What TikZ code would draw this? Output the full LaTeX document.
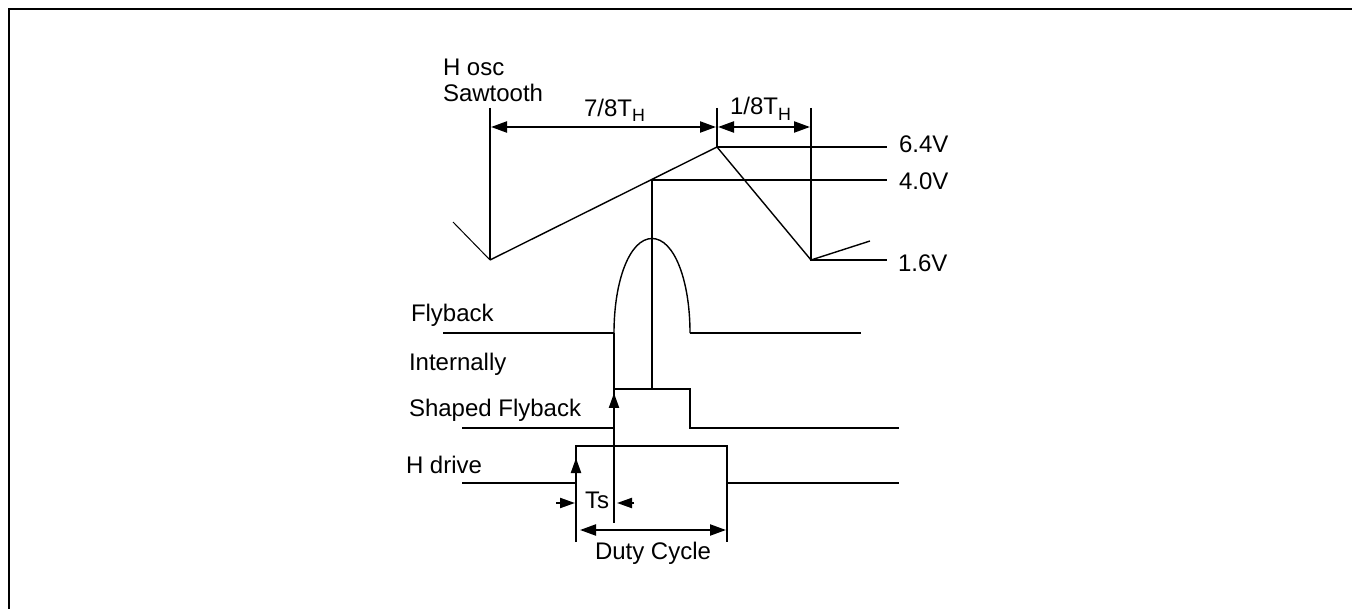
\documentclass[tikz,border=0pt]{standalone}
\usepackage{fontspec}
\setmainfont{Liberation Sans}
\usetikzlibrary{arrows.meta}
\newcommand{\subH}[1]{\raisebox{#1}{\fontsize{17.8pt}{18pt}\selectfont H}}
\tikzset{
  heavy/.style={line width=2.2pt,black},
  fine/.style={line width=1.4pt,black},
  faint/.style={line width=1pt,black},
  lbl/.style={anchor=base west,inner sep=0pt,outer sep=0pt,font=\fontsize{24pt}{27pt}\selectfont,text=black},
  dimension/.style={line width=2.2pt,black,{Triangle[length=16pt,width=11pt]}-{Triangle[length=16pt,width=11pt]}},
  onetip/.style={line width=2.2pt,black,-{Triangle[length=15pt,width=10pt]}},
}
\begin{document}
\begin{tikzpicture}[x=1pt,y=-1pt]
\useasboundingbox (0,0) rectangle (1352,609);
% named points
\coordinate (frameBL) at (9,609);
\coordinate (frameTL) at (9,9);
\coordinate (frameTR) at (1352,9);
\coordinate (sawTail) at (453,222);
\coordinate (sawLow) at (490,260);
\coordinate (sawLowTop) at (490,108);
\coordinate (sawPeak) at (717,147);
\coordinate (sawPeakTop) at (717,108);
\coordinate (sawMid) at (652,180);
\coordinate (sawEnd) at (811,260);
\coordinate (sawEndTop) at (811,108);
\coordinate (sawNext) at (870,241);
\coordinate (v64) at (887,147);
\coordinate (v40) at (887,180);
\coordinate (v16) at (887,260);
\coordinate (flyA) at (443,333);
\coordinate (flyB) at (614,333);
\coordinate (flyTop) at (652,238.5);
\coordinate (flyC) at (690,333);
\coordinate (flyD) at (861,333);
\coordinate (shA) at (462,428);
\coordinate (shB) at (614,428);
\coordinate (shC) at (614,389);
\coordinate (shM) at (652,389);
\coordinate (shD) at (690,389);
\coordinate (shE) at (690,428);
\coordinate (shF) at (899,428);
\coordinate (tsBottom) at (614,523);
\coordinate (hdA) at (462,483);
\coordinate (hdB) at (576,483);
\coordinate (hdC) at (576,446);
\coordinate (hdD) at (727,446);
\coordinate (hdE) at (727,483);
\coordinate (hdF) at (899,483);
\coordinate (hdL) at (576,542);
\coordinate (hdR) at (727,542);
% frame
\draw[heavy] (frameBL) -- (frameTL) -- (frameTR);
% sawtooth
\draw[faint] (sawTail) -- (sawLow);
\draw[fine,line join=round] (sawLow) -- (sawPeak) -- (sawEnd) -- (sawNext);
\draw[heavy] (sawLowTop) -- (sawLow);
\draw[heavy] (sawPeakTop) -- (sawPeak) -- (v64);
\draw[heavy] (shM) -- (sawMid) -- (v40);
\draw[heavy] (sawEndTop) -- (sawEnd) -- (v16);
\draw[dimension] (491,127) -- (716,127);
\draw[dimension] (718,127) -- (810,127);
% flyback
\draw[heavy] (flyA) -- (flyB);
\draw[fine] (flyB) .. controls (614,280) and (630,238.5) .. (flyTop) .. controls (674,238.5) and (690,280) .. (flyC);
\draw[heavy] (flyC) -- (flyD);
% internally shaped flyback
\draw[heavy] (shA) -- (shB);
\draw[heavy] (flyB) -- (tsBottom);
\draw[heavy] (shC) -- (shD) -- (shE) -- (shF);
\draw[onetip] (614,420) -- (614,393);
% H drive
\draw[heavy] (hdA) -- (hdB);
\draw[heavy] (hdL) -- (hdC) -- (hdD) -- (hdR);
\draw[heavy] (hdE) -- (hdF);
\draw[onetip] (576,480) -- (576,458);
% Ts and duty cycle
\draw[onetip] (556,503) -- (575,503);
\draw[onetip] (634,503) -- (617,503);
\draw[dimension] (580,530) -- (726,530);
% labels
\node[lbl] (hosc) at (443,76) {H osc};
\node[lbl] (saw) at (443,102) {Sawtooth};
\node[lbl] (seven) at (584,117) {7/8T\subH{-5pt}};
\node[lbl] (one) at (730,115) {1/8T\subH{-6pt}};
\node[lbl] (l64) at (899,153) {6.4V};
\node[lbl] (l40) at (899,190) {4.0V};
\node[lbl] (l16) at (898,272) {1.6V};
\node[lbl] (fly) at (411,322) {Flyback};
\node[lbl] (intern) at (409,371) {Internally};
\node[lbl] (shaped) at (409,417) {Shaped Flyback};
\node[lbl] (hdrive) at (406,473) {H drive};
\node[lbl] (ts) at (585,508) {Ts};
\node[lbl] (duty) at (595,559) {Duty Cycle};
\end{tikzpicture}
\end{document}
